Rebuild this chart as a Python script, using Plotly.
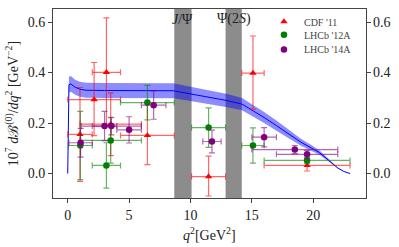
import plotly.graph_objects as go

# ---------------- data ----------------
# theory prediction (central value and half-width of uncertainty band)
q2_th = [0.0, 0.1, 0.25, 0.6, 1.0, 1.5, 3.0, 6.0, 8.6, 9.5, 10.8, 12.0, 13.0, 14.2,
         15.0, 16.0, 17.0, 18.0, 19.0, 20.0, 20.5, 21.0, 21.5, 22.0, 22.5, 23.0]
y_th = [0.0, 0.352, 0.355, 0.342, 0.334, 0.330, 0.329, 0.329, 0.328, 0.320, 0.309,
        0.298, 0.289, 0.275, 0.252, 0.222, 0.190, 0.156, 0.124, 0.097, 0.083, 0.063,
        0.042, 0.022, 0.008, 0.0]
hw_th = [0.0, 0.032, 0.031, 0.030, 0.030, 0.030, 0.030, 0.030, 0.030, 0.029, 0.028,
         0.027, 0.026, 0.024, 0.023, 0.022, 0.020, 0.017, 0.014, 0.011, 0.009, 0.006,
         0.003, 0.001, 0.0, 0.0]

# charmonium veto windows
veto_lo = [8.68, 12.86]
veto_hi = [10.09, 14.18]
veto_labels = ["<i>J</i>/Ψ", "Ψ(2<i>S</i>)"]

# CDF '11
cdf_lo = [0.0, 0.0, 2.0, 1.0, 4.3, 10.09, 14.18, 16.0]
cdf_hi = [2.0, 4.3, 4.3, 6.0, 8.68, 12.86, 16.0, 23.0]
cdf_y = [0.155, 0.293, 0.401, 0.196, 0.151, -0.012, 0.398, 0.032]
cdf_eu = [0.186, 0.147, 0.216, 0.124, 0.130, 0.081, 0.147, 0.016]
cdf_ed = [0.186, 0.143, 0.210, 0.125, 0.116, 0.077, 0.143, 0.022]

# LHCb '12A
l12_lo = [0.05, 2.0, 1.0, 4.3, 10.09, 14.18, 16.0]
l12_hi = [2.0, 4.3, 6.0, 8.68, 12.86, 16.0, 23.0]
l12_y = [0.111, 0.032, 0.131, 0.281, 0.182, 0.111, 0.052]
l12_e = [0.135, 0.090, 0.090, 0.068, 0.078, 0.070, 0.012]

# LHCb '14A
l14_lo = [0.1, 2.0, 1.1, 4.0, 6.0, 11.0, 15.0, 15.0, 17.0]
l14_hi = [2.0, 4.0, 6.0, 6.0, 8.0, 12.5, 17.0, 22.0, 22.0]
l14_y = [0.122, 0.188, 0.188, 0.173, 0.271, 0.127, 0.144, 0.095, 0.076]
l14_e = [0.057, 0.058, 0.035, 0.052, 0.056, 0.045, 0.038, 0.016, 0.016]

X_RANGE = [-1.2, 24.3]
Y_RANGE = [-0.097, 0.652]
Y_TICKS = [0.0, 0.2, 0.4, 0.6]
X_TICKS = [0, 5, 10, 15, 20]

SERIF = "Liberation Serif, DejaVu Serif, serif"
TXT = "#222"

fig = go.Figure()

# charmonium veto bands (filled areas spanning the full y range)
for a, b in zip(veto_lo, veto_hi):
    fig.add_trace(go.Scatter(
        x=[a, a, b, b, a], y=[Y_RANGE[0], Y_RANGE[1], Y_RANGE[1], Y_RANGE[0], Y_RANGE[0]],
        mode="lines", line=dict(width=0), fill="toself", fillcolor="rgb(140,140,140)",
        showlegend=False, hoverinfo="skip"))

# uncertainty band
upper = [c + h for c, h in zip(y_th, hw_th)]
lower = [c - h for c, h in zip(y_th, hw_th)]
fig.add_trace(go.Scatter(x=q2_th, y=upper, mode="lines", line=dict(width=0),
                         showlegend=False, hoverinfo="skip"))
fig.add_trace(go.Scatter(x=q2_th, y=lower, mode="lines", line=dict(width=0),
                         fill="tonexty", fillcolor="rgba(0,0,255,0.45)",
                         showlegend=False, hoverinfo="skip"))
fig.add_trace(go.Scatter(x=q2_th, y=y_th, mode="lines",
                         line=dict(color="blue", width=1), showlegend=False))


def add_data(lo, hi, y, eu, ed, name, color, rgba, symbol, legend):
    xc = [(a + b) / 2 for a, b in zip(lo, hi)]
    ex_p = [b - c for b, c in zip(hi, xc)]
    ex_m = [c - a for a, c in zip(lo, xc)]
    fig.add_trace(go.Scatter(
        x=xc, y=y, mode="markers", name=name, legend=legend,
        marker=dict(color=color, symbol=symbol, size=6.5),
        error_x=dict(type="data", symmetric=False, array=ex_p, arrayminus=ex_m,
                     color=rgba, thickness=1.2, width=3),
        error_y=dict(type="data", symmetric=False, array=eu, arrayminus=ed,
                     color=rgba, thickness=1.2, width=3),
    ))


add_data(cdf_lo, cdf_hi, cdf_y, cdf_eu, cdf_ed, "CDF '11", "red",
         "rgba(255,0,0,0.6)", "triangle-up", "legend")
add_data(l12_lo, l12_hi, l12_y, l12_e, l12_e, "LHCb '12A", "green",
         "rgba(0,128,0,0.6)", "circle", "legend2")
add_data(l14_lo, l14_hi, l14_y, l14_e, l14_e, "LHCb '14A", "purple",
         "rgba(128,0,128,0.6)", "circle", "legend3")

annotations = []
for a, b, lab in zip(veto_lo, veto_hi, veto_labels):
    annotations.append(dict(x=(a + b) / 2, y=0.612, xref="x", yref="y", text=lab,
                            showarrow=False, font=dict(family=SERIF, size=14, color=TXT),
                            xanchor="center", yanchor="middle"))
# x-axis title
annotations.append(dict(x=0.5, y=-0.13, xref="paper", yref="paper",
                        text="<i>q</i><sup>2</sup>[GeV<sup>2</sup>]", showarrow=False,
                        font=dict(family=SERIF, size=14, color=TXT),
                        xanchor="center", yanchor="top"))
# right-hand tick labels (mirrored y axis)
for t in Y_TICKS:
    annotations.append(dict(x=1.0, y=t, xref="paper", yref="y", text=f"{t:.1f}",
                            showarrow=False, xanchor="left", yanchor="middle", xshift=5,
                            font=dict(family=SERIF, size=14, color=TXT)))

axis_common = dict(showline=True, linecolor="#444", linewidth=1, ticks="outside",
                   ticklen=4, tickcolor="#444", showgrid=False, zeroline=False,
                   tickfont=dict(family=SERIF, size=14, color=TXT))

leg_common = dict(x=0.674, xanchor="left", yanchor="top", bgcolor="rgba(0,0,0,0)",
                  font=dict(family=SERIF, size=10, color="#444"), itemwidth=30)

fig.update_layout(
    width=399, height=247,
    margin=dict(l=53, r=33, t=7, b=49),
    paper_bgcolor="white", plot_bgcolor="white",
    annotations=annotations,
    xaxis=dict(range=X_RANGE, tickvals=X_TICKS, mirror=True, **axis_common),
    yaxis=dict(range=Y_RANGE, tickvals=Y_TICKS, tickformat=".1f", mirror="allticks",
               title=dict(text="10<sup>7</sup> <i>d</i>ℬ<sup>(0)</sup>/<i>dq</i><sup>2</sup> [GeV<sup>−2</sup>]",
                          font=dict(family=SERIF, size=14, color=TXT), standoff=5),
               **axis_common),
    legend=dict(y=1.01, **leg_common),
    legend2=dict(y=0.94, **leg_common),
    legend3=dict(y=0.862, **leg_common),
    showlegend=True,
)

fig.write_html("out.html", config={"displayModeBar": False},
               post_script="document.body.style.margin='0px';document.body.style.padding='0px';")
